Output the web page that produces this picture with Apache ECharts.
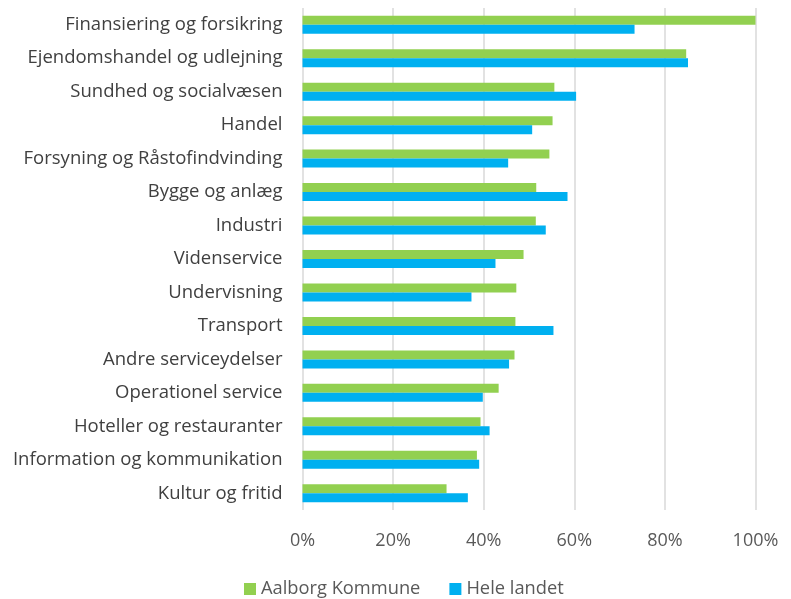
<!DOCTYPE html>
<html><head><meta charset="utf-8">
<script src="https://cdn.jsdelivr.net/npm/echarts@6/dist/echarts.min.js"></script>
<style>html,body{margin:0;padding:0;background:#fff}#c{width:791px;height:599px}</style>
</head><body><div id="c"></div>
<script>
const categories = ["Finansiering og forsikring","Ejendomshandel og udlejning","Sundhed og socialvæsen","Handel","Forsyning og Råstofindvinding","Bygge og anlæg","Industri","Videnservice","Undervisning","Transport","Andre serviceydelser","Operationel service","Hoteller og restauranter","Information og kommunikation","Kultur og fritid"];
const aalborg = [100,84.7,55.6,55.2,54.5,51.6,51.5,48.8,47.2,47.0,46.8,43.3,39.3,38.5,31.8];
const heleLandet = [73.3,85.1,60.4,50.7,45.4,58.5,53.7,42.6,37.3,55.4,45.6,39.8,41.3,39.0,36.5];
const seriesNames = ["Aalborg Kommune","Hele landet"];
const font = "Open Sans";
const chart = echarts.init(document.getElementById('c'));
chart.setOption({
  animation:false,
  grid:{left:302.5,right:35.5,top:8,height:502,containLabel:false},
  legend:{bottom:-4,left:239,itemWidth:12,itemHeight:12,itemGap:29,icon:'rect',
    textStyle:{fontFamily:font,fontSize:18.3,color:'#595959'},data:seriesNames},
  xAxis:{type:'value',min:0,max:100,interval:20,
    axisLabel:{formatter:v=>v+'%',fontFamily:font,fontSize:18,color:'#595959',margin:22},
    axisLine:{show:false},axisTick:{show:false},
    splitLine:{lineStyle:{color:'#d9d9d9',width:1.5}}},
  yAxis:{type:'category',data:categories,inverse:true,
    axisLine:{show:false},axisTick:{show:false},
    axisLabel:{fontFamily:font,fontSize:18.5,color:'#404040',margin:20}},
  series:[
    {name:seriesNames[0],type:'bar',data:aalborg,barWidth:9,barGap:'0%',itemStyle:{color:'#92D050'}},
    {name:seriesNames[1],type:'bar',data:heleLandet,barWidth:9,barGap:'0%',itemStyle:{color:'#00B0F0'}}
  ]
});
</script></body></html>
